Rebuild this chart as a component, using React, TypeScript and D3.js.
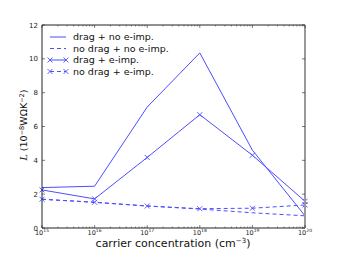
import React from "react";
import * as d3 from "d3";

const exponents = [15, 16, 17, 18, 19, 20];
const dragNoEimp = [2.39, 2.47, 7.15, 10.35, 4.6, 0.72];
const noDragNoEimp = [1.7, 1.52, 1.3, 1.12, 0.9, 0.72];
const dragEimp = [2.25, 1.72, 4.17, 6.7, 4.3, 1.58];
const noDragEimp = [1.7, 1.52, 1.3, 1.14, 1.17, 1.36];
const yTicks = [0, 2, 4, 6, 8, 10, 12];
const legendLabels = ["drag + no e-imp.", "no drag + no e-imp.", "drag + e-imp.", "no drag + e-imp."];

const W = 339, H = 254;
const L = 42, R = 305, T = 25, B = 228;
const color = "#4d4dff";
const font = "DejaVu Sans, sans-serif";

export default function App() {
  const x = d3.scaleLog().domain([1e15, 1e20]).range([L, R]);
  const y = d3.scaleLinear().domain([0, 12]).range([B, T]);
  const line = d3.line<[number, number]>().x(d => x(d[0])).y(d => y(d[1]));
  const pts = (vals: number[]) => exponents.map((e, i) => [Math.pow(10, e), vals[i]] as [number, number]);

  const minor: number[] = [];
  for (let e = 15; e < 20; e++) for (let k = 2; k <= 9; k++) minor.push(k * Math.pow(10, e));

  const series = [
    { vals: dragNoEimp, dash: undefined, marker: false },
    { vals: noDragNoEimp, dash: "4,3", marker: false },
    { vals: dragEimp, dash: undefined, marker: true },
    { vals: noDragEimp, dash: "4,3", marker: true },
  ];

  const X = (cx: number, cy: number, s: number, key: any) => (
    <path key={key} d={`M${cx - s},${cy - s}L${cx + s},${cy + s}M${cx - s},${cy + s}L${cx + s},${cy - s}`} stroke={color} strokeWidth={0.9} fill="none" />
  );

  return (
    <svg width={W} height={H} style={{ position: "absolute", left: 0, top: 0, background: "#fff" }} fontFamily={font}>
      <rect x={0} y={0} width={W} height={H} fill="#fff" />
      {series.map((s, i) => (
        <g key={i}>
          <path d={line(pts(s.vals)) || ""} fill="none" stroke={color} strokeWidth={1} strokeDasharray={s.dash} />
          {s.marker && pts(s.vals).map((p, j) => X(x(p[0]), y(p[1]), 2.5, j))}
        </g>
      ))}
      {/* spines */}
      <line x1={L} y1={T} x2={R} y2={T} stroke="#222" strokeWidth={1} />
      <line x1={L} y1={T} x2={L} y2={B} stroke="#222" strokeWidth={1} />
      <line x1={L} y1={B} x2={R} y2={B} stroke="#222" strokeWidth={1} />
      <line x1={R} y1={T} x2={R} y2={B} stroke="#999" strokeWidth={2} />
      {/* y ticks */}
      {yTicks.map(t => (
        <g key={t}>
          <line x1={L} x2={L + 3} y1={y(t)} y2={y(t)} stroke="#222" strokeWidth={0.6} />
          <line x1={R - 3} x2={R} y1={y(t)} y2={y(t)} stroke="#222" strokeWidth={0.6} />
          <text x={L - 4} y={y(t) + 2.5} fontSize={7} textAnchor="end" fill="#222">{t}</text>
        </g>
      ))}
      {/* x ticks */}
      {exponents.map(e => {
        const px = x(Math.pow(10, e));
        return (
          <g key={e}>
            <line x1={px} x2={px} y1={B} y2={B - 3} stroke="#222" strokeWidth={0.6} />
            <line x1={px} x2={px} y1={T} y2={T + 3} stroke="#222" strokeWidth={0.6} />
            <text x={px} y={B + 7} fontSize={6.5} textAnchor="middle" fill="#222">
              10<tspan dy={-3} fontSize={4.5}>{e}</tspan>
            </text>
          </g>
        );
      })}
      {minor.map((m, i) => {
        const px = x(m);
        return (
          <g key={"m" + i}>
            <line x1={px} x2={px} y1={B} y2={B - 1.5} stroke="#222" strokeWidth={0.5} />
            <line x1={px} x2={px} y1={T} y2={T + 1.5} stroke="#222" strokeWidth={0.5} />
          </g>
        );
      })}
      {/* legend */}
      {legendLabels.map((lab, i) => {
        const ly = 37 + i * 11.5;
        const s = series[i];
        return (
          <g key={lab}>
            <line x1={50} x2={66} y1={ly} y2={ly} stroke={color} strokeWidth={1} strokeDasharray={s.dash} />
            {s.marker && X(50, ly, 2.5, "a")}
            {s.marker && X(66, ly, 2.5, "b")}
            <text x={73} y={ly + 3.3} fontSize={9.5} fill="#111">{lab}</text>
          </g>
        );
      })}
      {/* axis labels */}
      <text x={173} y={247} fontSize={11} textAnchor="middle" fill="#111">
        carrier concentration (cm<tspan dy={-4} fontSize={7}>−3</tspan><tspan dy={4}>)</tspan>
      </text>
      <text transform="translate(27,125) rotate(-90)" fontSize={9.5} textAnchor="middle" fill="#111">
        <tspan fontFamily="DejaVu Serif, serif" fontStyle="italic">L</tspan> (10<tspan dy={-3.5} fontSize={6.5}>−8</tspan><tspan dy={3.5}>WΩK</tspan><tspan dy={-3.5} fontSize={6.5}>−2</tspan><tspan dy={3.5}>)</tspan>
      </text>
    </svg>
  );
}
